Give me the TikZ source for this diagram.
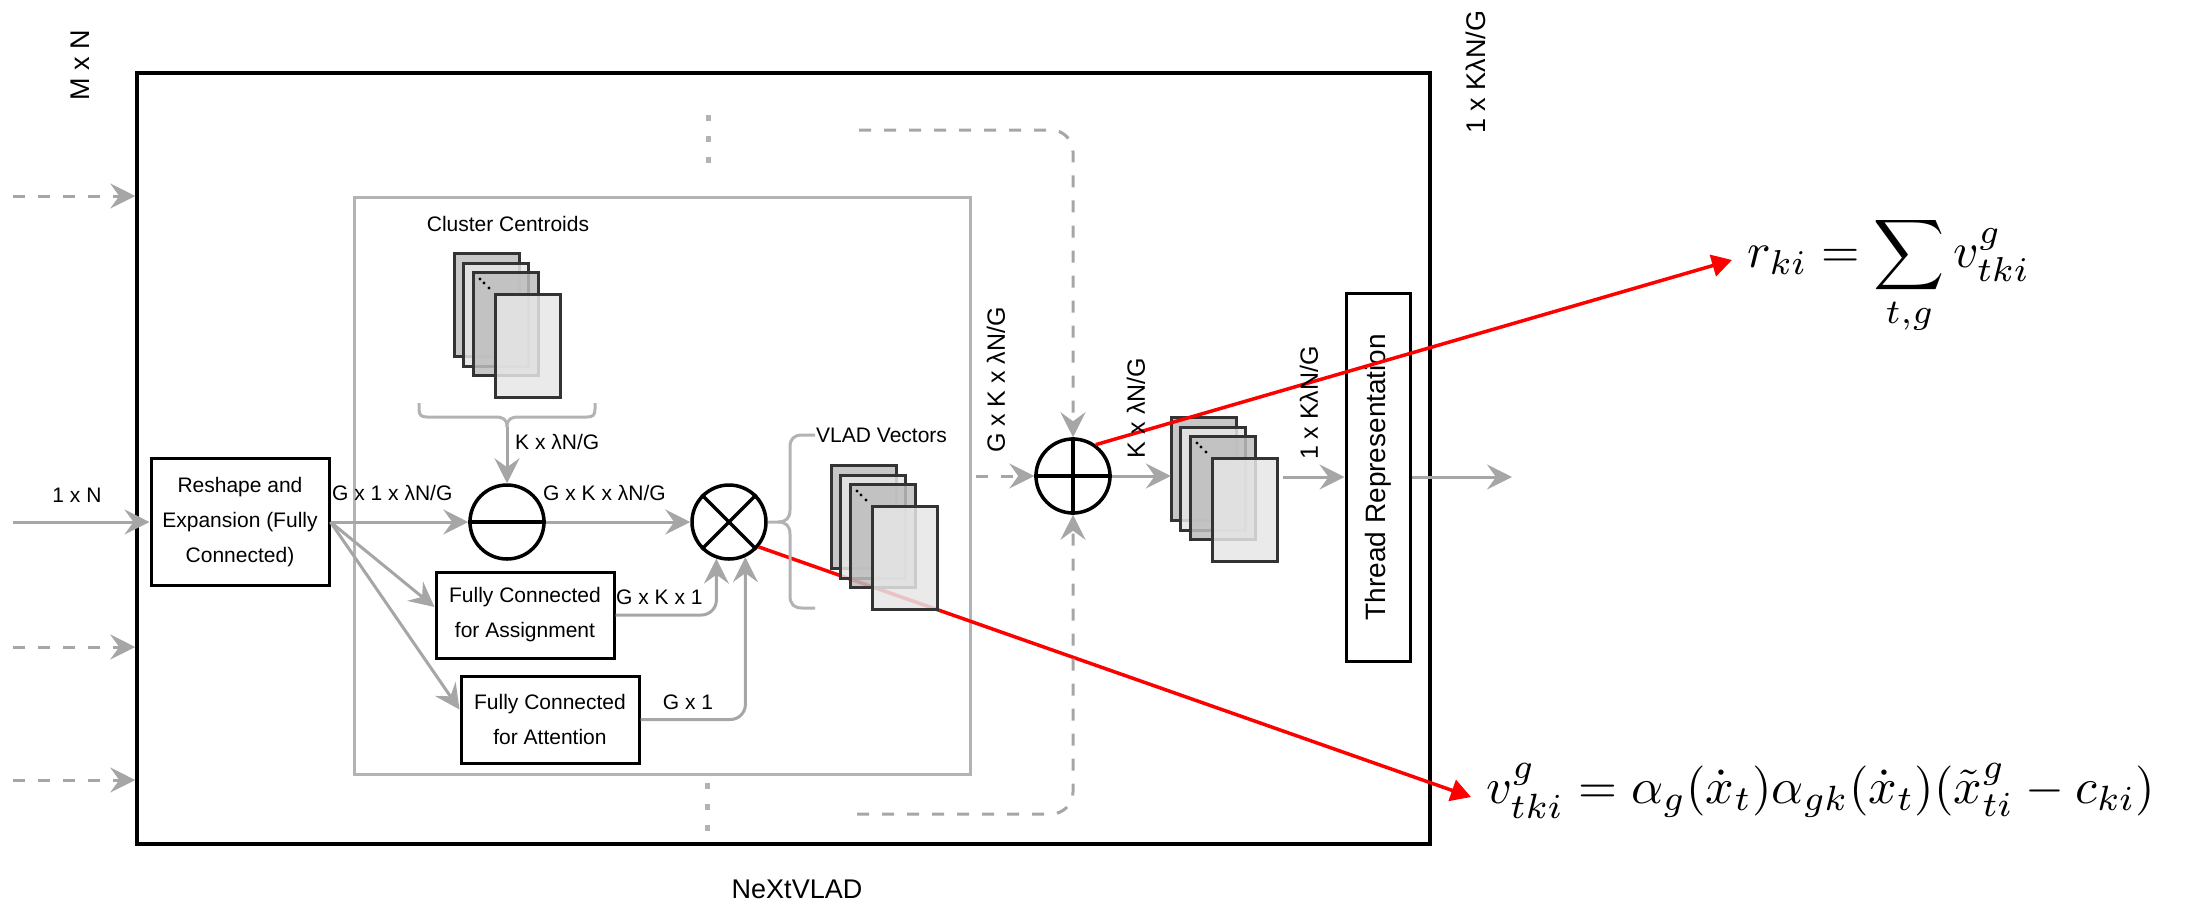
\documentclass[tikz,border=0pt]{standalone}
\usepackage{fontspec}
\setmainfont{Liberation Sans}
\usepackage{graphicx}
\usetikzlibrary{arrows.meta}
\definecolor{conncol}{HTML}{A6A6A6}
\definecolor{innergray}{HTML}{B3B3B3}
\definecolor{cardline}{HTML}{333333}
\definecolor{cdark}{HTML}{BDBDBD}
\definecolor{clight}{HTML}{E6E6E6}
\tikzset{
  lbl/.style={font=\fontsize{21}{25}\selectfont, inner sep=0},
  vlbl/.style={font=\fontsize{25}{30}\selectfont, inner sep=0, rotate=90},
  biglbl/.style={font=\fontsize{27}{32}\selectfont, inner sep=0},
  txtbox/.style={draw=black, line width=3, align=center, inner sep=0, font=\fontsize{21}{35}\selectfont},
  opc/.style={draw=black, line width=3.5, circle, minimum size=74, inner sep=0},
  opline/.style={draw=black, line width=3.5},
  conn/.style={draw=conncol, line width=3, -{Stealth[length=25pt,width=25pt,inset=9pt,fill=conncol]}},
  dconn/.style={conn, dash pattern=on 12pt off 13pt},
  dotv/.style={draw=innergray, line width=5, dash pattern=on 6pt off 15pt},
  redarrow/.style={draw=red, line width=3.5, -{Triangle[length=20pt,width=22pt,fill=red]}},
  card/.style={draw=cardline, line width=3, fill opacity=0.85},
  bracestyle/.style={draw=innergray, line width=3},
}
\newcommand{\cardstack}[3]{%
  \begin{scope}[shift={(#1,#2)}]
    \draw[card, fill=cdark] (0,0) rectangle ++(65,103);
    \draw[card, fill=clight] (9,10) rectangle ++(65,103);
    \draw[card, fill=cdark] (19,19) rectangle ++(65,103);
    \fill (26,26) circle (1.6); \fill (30,30) circle (1.6); \fill (35,35) circle (1.6);
    \draw[card, fill=clight] (41,41) rectangle ++(65,103);
    \node[inner sep=0, minimum width=106, minimum height=144] (#3) at (53,72) {};
  \end{scope}}
\begin{document}
\begin{tikzpicture}[x=1pt,y=-1pt]
\useasboundingbox (0,0) rectangle (2192,903);
% frames
\node[draw=black, line width=3.5, minimum width=1293, minimum height=771, inner sep=0] (outer) at (783.5,458.5) {};
\node[draw=innergray, line width=3, minimum width=616, minimum height=577, inner sep=0] (inner) at (662,485.5) {};
% boxes
\node[txtbox, minimum width=178, minimum height=127] (reshape) at (240,522) {Reshape and\\Expansion (Fully\\Connected)};
\node[txtbox, minimum width=178, minimum height=86] (fca) at (525,615) {Fully Connected\\for Assignment};
\node[txtbox, minimum width=178, minimum height=87] (fcat) at (550,719.5) {Fully Connected\\for Attention};
\node[draw=black, line width=3, minimum width=64, minimum height=368, inner sep=0] (thread) at (1378,477) {};
\node[font=\fontsize{28}{32}\selectfont, rotate=90, inner sep=0] at (thread.center) {Thread Representation};
% operators
\node[opc] (minus) at (507,522) {};
\draw[opline] (minus.west) -- (minus.east);
\node[opc] (times) at (729,522) {};
\draw[opline] (times.45) -- (times.-135);
\draw[opline] (times.135) -- (times.-45);
\node[opc] (plus) at (1073,476) {};
\draw[opline] (plus.west) -- (plus.east);
\draw[opline] (plus.north) -- (plus.south);
% red connectors (behind cards)
\coordinate (e1tip) at (1732,260);
\coordinate (e2tip) at (1471,797);
\draw[redarrow] (times.-40) -- (e2tip);
% card stacks
\cardstack{454}{253}{cc}
\cardstack{831}{465}{vlad}
\cardstack{1171}{417}{agg}
\draw[redarrow] (plus.54) -- (e1tip);
% texts
\node[biglbl, rotate=90] (mxn) at (80,65) {M x N};
\node[biglbl, rotate=90] (outdim) at (1476,72) {1 x KλN/G};
\node[biglbl] (title) at (797,889) {NeXtVLAD};
\node[lbl] (cctitle) at (508,224) {Cluster Centroids};
\node[lbl, anchor=west] (vladtitle) at (816,435) {VLAD Vectors};
% inputs
\coordinate (in1) at (13,522);
\coordinate (d1) at (13,196);
\coordinate (d2) at (13,647);
\coordinate (d3) at (13,780);
\draw[conn] (in1) -- (reshape.west);
\node[lbl] at (77,495) {1 x N};
\draw[dconn] (d1) -- (d1 -| outer.west);
\draw[dconn] (d2) -- (d2 -| outer.west);
\draw[dconn] (d3) -- (d3 -| outer.west);
% main flow
\draw[conn] (reshape.east) -- (minus.west);
\node[lbl, anchor=west] at (332,493) {G x 1 x λN/G};
\draw[conn] (minus.east) -- (times.west);
\node[lbl, anchor=west] at (543,493) {G x K x λN/G};
\draw[conn] (reshape.east) -- ([yshift=8pt]fca.west);
\draw[conn] (reshape.east) -- ([yshift=10pt]fcat.west);
\draw[conn, rounded corners=15] (fca.east) -| (times.-109);
\node[lbl, anchor=west] at (616,597) {G x K x 1};
\draw[conn, rounded corners=15] (fcat.east) -| (times.-65);
\node[lbl] at (688,702) {G x 1};
% cluster brace
\coordinate (btip) at (507,427);
\draw[bracestyle] (419,403) -- (419,409) .. controls (419,415) and (421,417) .. (427,417) -- (495,417) .. controls (503,417) and (507,419) .. (btip);
\draw[bracestyle] (595,403) -- (595,409) .. controls (595,415) and (593,417) .. (587,417) -- (519,417) .. controls (511,417) and (507,419) .. (btip);
\draw[conn] (btip) -- (minus.north);
\node[lbl, anchor=west] at (515,442) {K x λN/G};
% vlad brace
\draw[bracestyle] (815,435) -- (802,435) .. controls (794,435) and (790,439) .. (790,447) -- (790,510) .. controls (790,518) and (786,522) .. (778,522) -- (times.east);
\draw[bracestyle] (815,608) -- (802,608) .. controls (794,608) and (790,604) .. (790,596) -- (790,534) .. controls (790,526) and (786,522) .. (778,522);
% dotted continuations
\draw[dotv] (708,115) -- (708,166);
\draw[dotv] (707,783) -- (707,834);
% aggregation
\coordinate (vladout) at (976,476);
\coordinate (topd) at (859,130);
\coordinate (botd) at (857,814);
\draw[dconn] (vladout) -- (plus.west);
\draw[dconn, rounded corners=22] (topd) -| (plus.north);
\draw[dconn, rounded corners=22] (botd) -| (plus.south);
\node[vlbl] at (996,380) {G x K x λN/G};
\draw[conn] (plus.east) -- (plus.east -| agg.west);
\node[vlbl] at (1136,408) {K x λN/G};
\draw[conn] ([xshift=6pt]agg.east |- thread.west) -- (thread.west);
\node[vlbl] at (1309,403) {1 x KλN/G};
\coordinate (out) at (1512,477);
\draw[conn] (thread.east) -- (out);
% equations
\node[anchor=base west, inner sep=0] (eq1) at (1747,267) {\resizebox{283pt}{!}{$\displaystyle r_{ki}=\sum_{t,g}v^g_{tki}$}};
\node[anchor=base west, inner sep=0] (eq2) at (1486,803) {\resizebox{669pt}{!}{$v^g_{tki}=\alpha_g(\dot{x}_t)\alpha_{gk}(\dot{x}_t)(\tilde{x}^g_{ti}-c_{ki})$}};
\end{tikzpicture}
\end{document}
